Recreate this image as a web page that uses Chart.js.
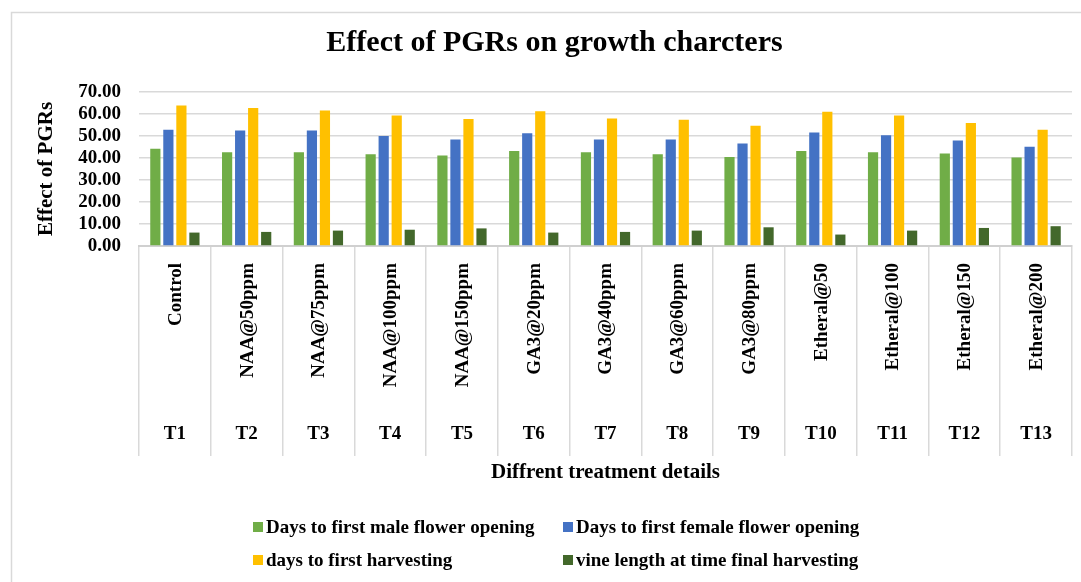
<!DOCTYPE html>
<html>
<head>
<meta charset="utf-8">
<style>
  html, body { margin: 0; padding: 0; background: #fff; }
  #wrap { position: relative; width: 1081px; height: 582px; }
</style>
<script src="https://cdn.jsdelivr.net/npm/chart.js@4.4.0/dist/chart.umd.min.js"></script>
</head>
<body>
<div id="wrap"><canvas id="pgrChart"></canvas></div>
<script>
const treatmentLabels = ['Control', 'NAA@50ppm', 'NAA@75ppm', 'NAA@100ppm', 'NAA@150ppm', 'GA3@20ppm',
  'GA3@40ppm', 'GA3@60ppm', 'GA3@80ppm', 'Etheral@50', 'Etheral@100', 'Etheral@150', 'Etheral@200'];
const treatmentCodes = ['T1', 'T2', 'T3', 'T4', 'T5', 'T6', 'T7', 'T8', 'T9', 'T10', 'T11', 'T12', 'T13'];

const maleFlower = [44.2, 42.6, 42.6, 41.7, 41.1, 43.2, 42.6, 41.7, 40.5, 43.2, 42.6, 42.0, 40.2];
const femaleFlower = [52.8, 52.5, 52.5, 50.0, 48.4, 51.3, 48.4, 48.4, 46.6, 51.6, 50.3, 47.9, 45.1];
const firstHarvest = [63.9, 62.7, 61.6, 59.3, 57.7, 61.3, 58.0, 57.4, 54.7, 61.0, 59.3, 55.9, 52.8];
const vineLength = [6.1, 6.4, 7.0, 7.4, 8.0, 6.1, 6.4, 7.0, 8.5, 5.2, 7.0, 8.2, 9.0];

const SERIF = "'Liberation Serif', 'Times New Roman', serif";

// outer frame like the excel chart border
const framePlugin = {
  id: 'frame',
  beforeDraw(chart) {
    const ctx = chart.ctx;
    ctx.save();
    ctx.strokeStyle = '#d9d9d9';
    ctx.lineWidth = 1.5;
    ctx.strokeRect(11.5, 12.5, 1200, 700);
    ctx.restore();
  }
};

// rotated treatment names + T codes under the axis
const xLabelsPlugin = {
  id: 'xLabels',
  afterDraw(chart) {
    const ctx = chart.ctx;
    const xs = chart.scales.x;
    const base = chart.chartArea.bottom;
    ctx.save();
    ctx.fillStyle = '#000';
    ctx.font = 'bold 19px ' + SERIF;
    treatmentLabels.forEach((lbl, i) => {
      const px = xs.getPixelForValue(i);
      ctx.save();
      ctx.translate(px + 1, base + 17);
      ctx.rotate(-Math.PI / 2);
      ctx.textAlign = 'right';
      ctx.textBaseline = 'middle';
      ctx.fillText(lbl, 0, 0);
      ctx.restore();
      ctx.textAlign = 'center';
      ctx.textBaseline = 'middle';
      ctx.fillText(treatmentCodes[i], px, base + 188);
    });
    ctx.restore();
  }
};

// two column legend at the bottom
const legendPlugin = {
  id: 'gridLegend',
  afterDraw(chart) {
    const ctx = chart.ctx;
    const cols = [253, 563];
    const rows = [528, 561];
    ctx.save();
    ctx.font = 'bold 19px ' + SERIF;
    ctx.textBaseline = 'middle';
    ctx.textAlign = 'left';
    chart.data.datasets.forEach((ds, i) => {
      const x = cols[i % 2];
      const y = rows[Math.floor(i / 2)];
      ctx.fillStyle = ds.backgroundColor;
      ctx.fillRect(x, y - 6, 10, 10);
      ctx.fillStyle = '#000';
      ctx.fillText(ds.label, x + 13, y);
    });
    ctx.restore();
  }
};

const ctx = document.getElementById('pgrChart').getContext('2d');
const pgrChart = new Chart(ctx, {
  type: 'bar',
  data: {
    labels: treatmentLabels,
    datasets: [
      { label: 'Days to first male flower opening', data: maleFlower, backgroundColor: '#70ad47' },
      { label: 'Days to first female flower opening', data: femaleFlower, backgroundColor: '#4472c4' },
      { label: 'days to first harvesting', data: firstHarvest, backgroundColor: '#ffc000' },
      { label: 'vine length at time final harvesting', data: vineLength, backgroundColor: '#43682b' }
    ]
  },
  options: {
    responsive: true,
    maintainAspectRatio: false,
    animation: false,
    datasets: {
      bar: {
        categoryPercentage: 0.726,
        barPercentage: 0.783
      }
    },
    layout: {
      padding: { top: 12, left: 37, right: 9, bottom: 97 }
    },
    plugins: {
      legend: { display: false },
      tooltip: { enabled: false },
      title: {
        display: true,
        text: 'Effect of PGRs on growth charcters',
        color: '#000',
        font: { family: SERIF, size: 30, weight: 'bold' },
        padding: { top: 13, bottom: 31 }
      }
    },
    scales: {
      x: {
        grid: {
          display: true,
          drawOnChartArea: false,
          drawTicks: true,
          tickLength: 210,
          color: '#d9d9d9',
          lineWidth: 1.5,
          offset: true
        },
        border: { display: true, color: '#d0d0d0', width: 2 },
        ticks: { display: false },
        title: {
          display: true,
          text: 'Diffrent treatment details',
          color: '#000',
          font: { family: SERIF, size: 21, weight: 'bold' },
          padding: { top: 4, bottom: 0 }
        },
        afterFit(scale) { scale.height = 239; }
      },
      y: {
        min: 0,
        max: 70,
        grid: { color: '#d9d9d9', lineWidth: 1.5, drawTicks: false },
        border: { display: false },
        ticks: {
          stepSize: 10,
          autoSkip: false,
          padding: 18,
          color: '#000',
          font: { family: SERIF, size: 19, weight: 'bold' },
          callback: function(value) {
            return value.toFixed(2);
          }
        },
        title: {
          display: true,
          text: 'Effect of PGRs',
          color: '#000',
          font: { family: SERIF, size: 21, weight: 'bold' },
          padding: { top: -3, bottom: 0 }
        },
        afterFit(scale) { scale.width = 102; }
      }
    }
  },
  plugins: [framePlugin, xLabelsPlugin, legendPlugin]
});
</script>
</body>
</html>
